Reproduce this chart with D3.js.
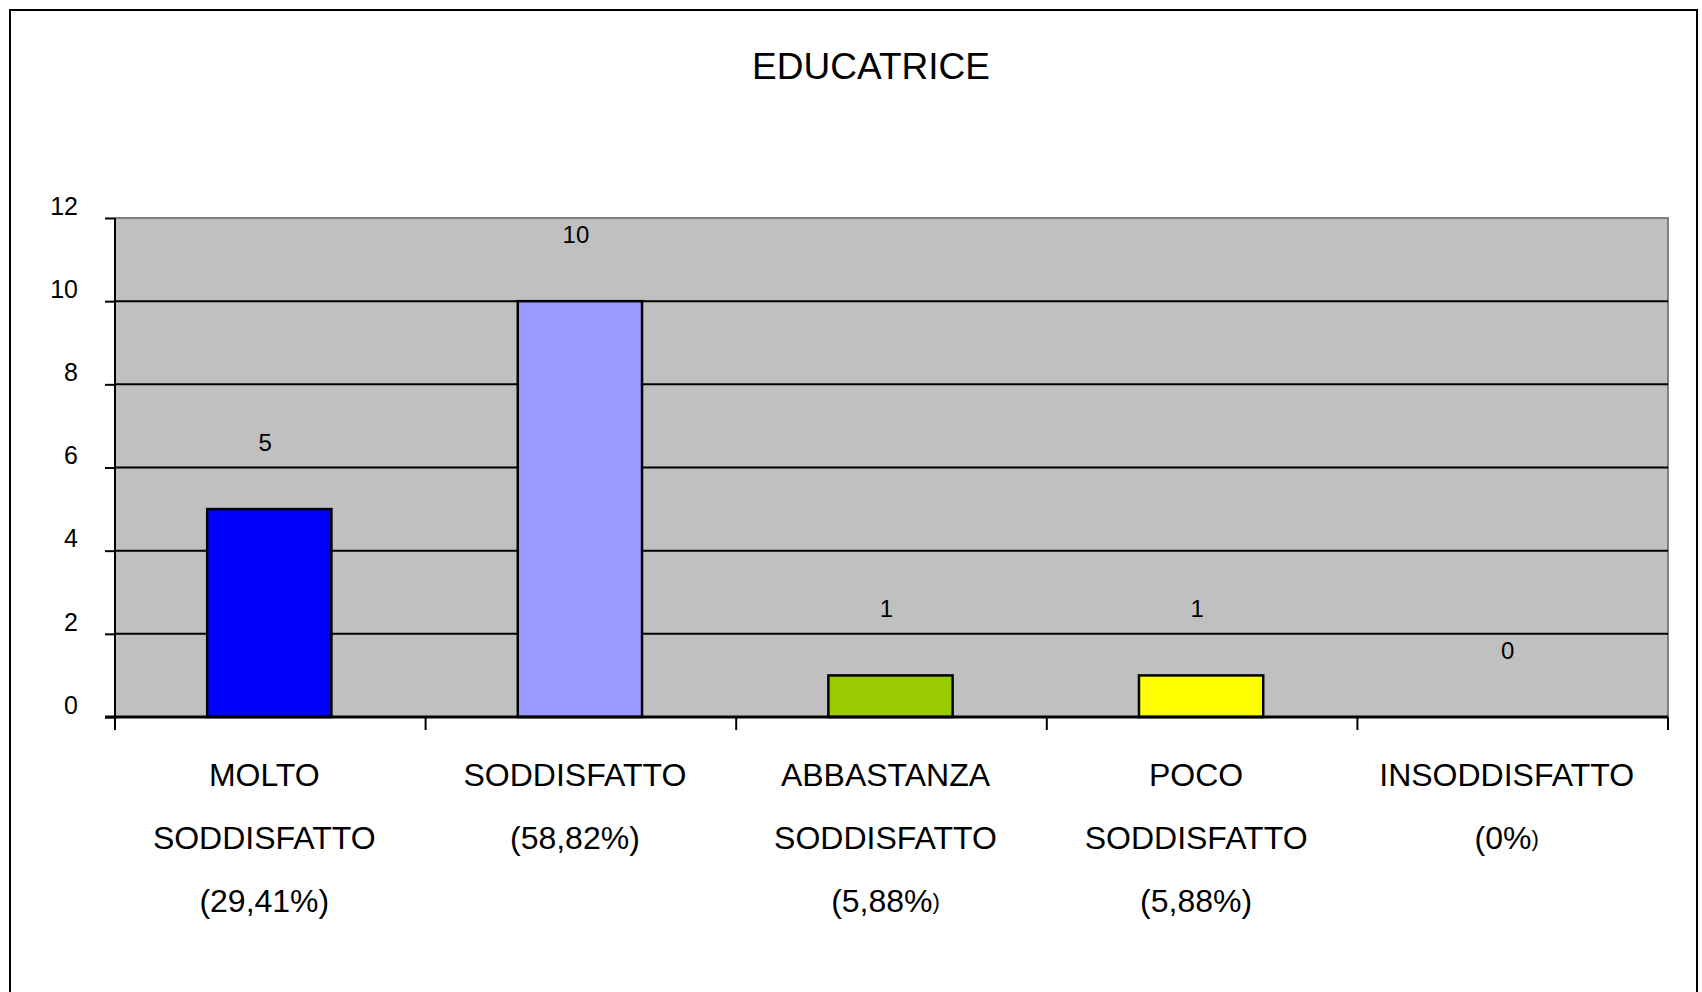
<!DOCTYPE html>
<html>
<head>
<meta charset="utf-8">
<script src="https://cdn.jsdelivr.net/npm/d3@7"></script>
<style>
  body { margin: 0; background: #fff; }
  svg text { font-family: "Liberation Sans", Arial, sans-serif; fill: #000; }
</style>
</head>
<body>
<div id="Chart"></div>
<script>
// data
var categories = ["MOLTO SODDISFATTO", "SODDISFATTO", "ABBASTANZA SODDISFATTO", "POCO SODDISFATTO", "INSODDISFATTO"];
var labelLines = [
    ["MOLTO", "SODDISFATTO", "(29,41%)"],
    ["SODDISFATTO", "(58,82%)"],
    ["ABBASTANZA", "SODDISFATTO", "(5,88%)"],
    ["POCO", "SODDISFATTO", "(5,88%)"],
    ["INSODDISFATTO", "(0%)"]
];
var values = [5, 10, 1, 1, 0];
var barColors = ["#0000ff", "#9999ff", "#99cc00", "#ffff00", "#c0c0c0"];
var yTicks = [0, 2, 4, 6, 8, 10, 12];
var title = "EDUCATRICE";

var width = 1702, height = 992;
var margin = {top: 218, right: 34, bottom: 275, left: 115};
var plotW = width - margin.left - margin.right,
    plotH = height - margin.top - margin.bottom;

var svg = d3.select("#Chart")
            .append("svg")
            .attr("width", width)
            .attr("height", height);

// outer frame (bottom edge runs off the page like in the original)
svg.append("rect")
    .attr("x", 10).attr("y", 10)
    .attr("width", 1687).attr("height", 1000)
    .attr("fill", "none")
    .attr("stroke", "#000")
    .attr("stroke-width", 2);

svg.append("text")
    .attr("x", 871).attr("y", 66)
    .attr("text-anchor", "middle")
    .attr("dominant-baseline", "central")
    .attr("font-size", 37)
    .text(title);

var g = svg.append("g").attr("transform", "translate(" + margin.left + "," + margin.top + ")");

var x = d3.scaleBand()
    .domain(categories)
    .range([0, plotW])
    .paddingInner(0.6)
    .paddingOuter(0.3);

var y = d3.scaleLinear().domain([0, 12]).range([plotH, 0]);

// plot area
g.append("rect")
    .attr("width", plotW).attr("height", plotH)
    .attr("fill", "#c0c0c0")
    .attr("stroke", "#808080")
    .attr("stroke-width", 2);

// gridlines
g.selectAll(".grid")
    .data(yTicks.filter(d => d > 0 && d < 12))
    .enter().append("line")
    .attr("class", "grid")
    .attr("x1", 0).attr("x2", plotW)
    .attr("y1", d => y(d)).attr("y2", d => y(d))
    .attr("stroke", "#000")
    .attr("stroke-width", 2);

// bars
g.selectAll(".bar")
    .data(values)
    .enter().append("rect")
    .attr("class", "bar")
    .attr("x", (d, i) => x(categories[i]) - 1)
    .attr("y", d => y(d))
    .attr("width", x.bandwidth())
    .attr("height", d => plotH - y(d))
    .attr("fill", (d, i) => barColors[i])
    .attr("stroke", "#000")
    .attr("stroke-width", d => d > 0 ? 2.5 : 0);

// value labels
g.selectAll(".val")
    .data(values)
    .enter().append("text")
    .attr("class", "val")
    .attr("x", (d, i) => x(categories[i]) + x.bandwidth() / 2 - 5)
    .attr("y", d => y(d) - 67)
    .attr("text-anchor", "middle")
    .attr("dominant-baseline", "central")
    .attr("font-size", 24)
    .text(d => d);

// y axis
var yAxis = g.append("g")
    .call(d3.axisLeft(y).tickValues(yTicks).tickSize(10).tickPadding(27));
yAxis.select(".domain").attr("stroke", "#000").attr("stroke-width", 2)
    .attr("d", "M0," + (plotH + 13) + "V0");
yAxis.selectAll(".tick line").attr("stroke", "#000").attr("stroke-width", 2);
yAxis.selectAll(".tick text")
    .attr("font-size", 25)
    .attr("font-family", "Liberation Sans, Arial, sans-serif")
    .attr("dy", "-0.15em");

// x axis line + boundary ticks
g.append("line")
    .attr("x1", -10).attr("x2", plotW)
    .attr("y1", plotH).attr("y2", plotH)
    .attr("stroke", "#000").attr("stroke-width", 3);

var bounds = d3.range(categories.length + 1).map(i => i * x.step());
g.selectAll(".xtick")
    .data(bounds)
    .enter().append("line")
    .attr("class", "xtick")
    .attr("x1", d => d).attr("x2", d => d)
    .attr("y1", plotH).attr("y2", plotH + 13)
    .attr("stroke", "#000").attr("stroke-width", 2);

// category labels, one text per line
labelLines.forEach(function(lines, i){
    var cx = x(categories[i]) + x.bandwidth() / 2 - 6;
    lines.forEach(function(line, j){
        var t = g.append("text")
            .attr("x", cx)
            .attr("y", plotH + 58 + j * 63)
            .attr("text-anchor", "middle")
            .attr("dominant-baseline", "central")
            .attr("font-size", 32);
        // the closing bracket is set smaller on two of the labels
        if ((i == 2 || i == 4) && line.endsWith(")")) {
            t.append("tspan").text(line.slice(0, -1));
            t.append("tspan").attr("font-size", 22).text(")");
        } else {
            t.text(line);
        }
    });
});
</script>
</body>
</html>
